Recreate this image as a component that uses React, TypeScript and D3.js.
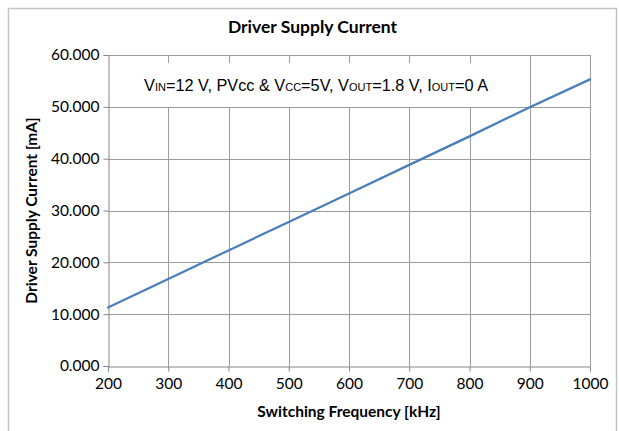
import React, { useEffect, useRef } from "react"
import * as d3 from "d3"

const WIDTH = 619
const HEIGHT = 431

// switching frequency [kHz] and driver supply current [mA]
const freqKHz = [200, 300, 400, 500, 600, 700, 800, 900, 1000]
const currentMA = [11.3, 16.8, 22.3, 27.8, 33.3, 38.8, 44.3, 49.9, 55.3]

const xTicks = [200, 300, 400, 500, 600, 700, 800, 900, 1000]
const yTicks = [0, 10, 20, 30, 40, 50, 60]

const LABEL_FONT = "Lato, 'Open Sans', sans-serif"
const NOTE_FONT = "'Liberation Sans', Arial, sans-serif"

const App = () => {
	const svgRef = useRef<SVGSVGElement>(null)

	useEffect(() => {
		if (!svgRef.current) return
		const svg = d3.select(svgRef.current)
		svg.selectAll("*").remove()

		const margin = { top: 55, right: 29, bottom: 65, left: 108 }
		const width = WIDTH - margin.left - margin.right
		const height = HEIGHT - margin.top - margin.bottom

		// outer chart frame
		svg.append("rect")
			.attr("x", 8.5)
			.attr("y", 8.5)
			.attr("width", 608)
			.attr("height", 440)
			.attr("fill", "white")
			.attr("stroke", "#c4c4c4")
			.attr("stroke-width", 1.5)

		svg.append("text")
			.attr("x", 312.5)
			.attr("y", 33)
			.attr("text-anchor", "middle")
			.style("font-family", LABEL_FONT)
			.style("font-weight", "bold")
			.style("font-size", "17.5px")
			.style("fill", "#000")
			.text("Driver Supply Current")

		const g = svg.append("g")
			.attr("transform", `translate(${margin.left},${margin.top})`)

		const xScale = d3.scaleLinear().domain([200, 1000]).range([0, width])
		const yScale = d3.scaleLinear().domain([0, 60]).range([height, 0])

		// grid
		g.append("g")
			.selectAll("line.hgrid")
			.data(yTicks.filter((d) => d > 0))
			.join("line")
			.attr("x1", 0)
			.attr("x2", width)
			.attr("y1", (d) => Math.round(yScale(d)) + 0.5)
			.attr("y2", (d) => Math.round(yScale(d)) + 0.5)
			.attr("stroke", "#9c9c9c")
			.attr("stroke-width", 1)

		g.append("g")
			.selectAll("line.vgrid")
			.data(xTicks.filter((d) => d > 200))
			.join("line")
			.attr("x1", (d) => Math.round(xScale(d)) + 0.5)
			.attr("x2", (d) => Math.round(xScale(d)) + 0.5)
			.attr("y1", 0)
			.attr("y2", height)
			.attr("stroke", "#9c9c9c")
			.attr("stroke-width", 1)

		// axes
		const yAxis = d3.axisLeft(yScale)
			.tickValues(yTicks)
			.tickSize(5)
			.tickPadding(4)
			.tickFormat(d3.format(".3f"))
		const yG = g.append("g").attr("transform", "translate(0.5,0)").call(yAxis)
		yG.select(".domain").attr("stroke", "#868686")
		yG.selectAll(".tick line").attr("stroke", "#868686")
		yG.selectAll(".tick text")
			.style("font-family", LABEL_FONT)
			.style("font-size", "15.5px")
			.style("fill", "#000")

		const xAxis = d3.axisBottom(xScale)
			.tickValues(xTicks)
			.tickSize(5)
			.tickPadding(6)
			.tickFormat(d3.format("d"))
		const xG = g.append("g").attr("transform", `translate(0,${height + 0.5})`).call(xAxis)
		xG.select(".domain").attr("stroke", "#868686")
		xG.selectAll(".tick line").attr("stroke", "#868686")
		xG.selectAll(".tick text")
			.style("font-family", LABEL_FONT)
			.style("font-size", "15.5px")
			.style("fill", "#000")

		// condition note box (hides the grid behind it)
		const note = g.append("g")
		note.append("rect")
			.attr("x", 16)
			.attr("y", 8)
			.attr("width", 392)
			.attr("height", 44)
			.attr("fill", "white")
		const noteText = note.append("text")
			.attr("x", 36)
			.attr("y", 36)
			.style("font-family", NOTE_FONT)
			.style("font-size", "16.3px")
			.style("fill", "#000")
		const parts: [string, boolean][] = [
			["V", false], ["IN", true], ["=12 V, PVcc & V", false], ["CC", true],
			["=5V, V", false], ["OUT", true], ["=1.8 V, I", false], ["OUT", true], ["=0 A", false],
		]
		parts.forEach(([t, sub]) => {
			noteText.append("tspan")
				.style("font-size", sub ? "11px" : "16.3px")
				.text(t)
		})

		// series
		const line = d3.line<number>()
			.x((_, i) => xScale(freqKHz[i]))
			.y((d) => yScale(d))
		g.append("path")
			.datum(currentMA)
			.attr("fill", "none")
			.attr("stroke", "#4a7ebb")
			.attr("stroke-width", 2.25)
			.attr("stroke-linecap", "round")
			.attr("d", line)

		// axis titles
		svg.append("text")
			.attr("x", margin.left + width / 2)
			.attr("y", 417)
			.attr("text-anchor", "middle")
			.style("font-family", LABEL_FONT)
			.style("font-weight", "bold")
			.style("font-size", "15.5px")
			.text("Switching Frequency [kHz]")

		svg.append("text")
			.attr("transform", `translate(37,${margin.top + height / 2}) rotate(-90)`)
			.attr("text-anchor", "middle")
			.style("font-family", LABEL_FONT)
			.style("font-weight", "bold")
			.style("font-size", "15.5px")
			.text("Driver Supply Current [mA]")
	}, [])

	return (
		<svg
			ref={svgRef}
			width={WIDTH}
			height={HEIGHT}
			style={{ position: "absolute", left: 0, top: 0, background: "white" }}
		></svg>
	)
}

export default App
